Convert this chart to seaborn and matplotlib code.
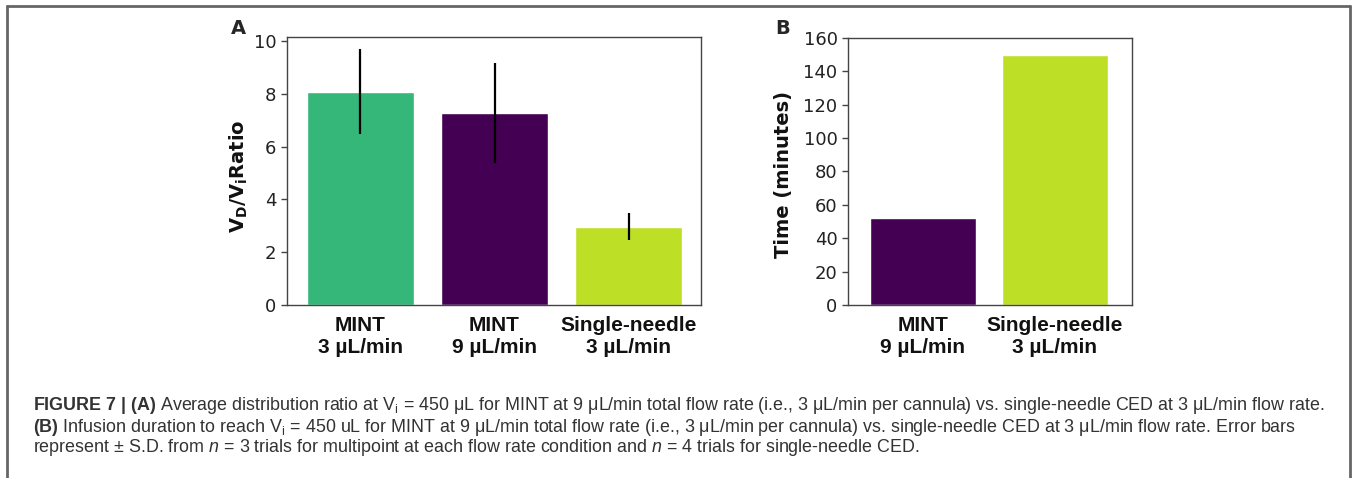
import matplotlib.pyplot as plt
import matplotlib.lines as mlines
import seaborn as sns

# panel A: distribution ratio
ratio_labels = ["MINT\n3 µL/min", "MINT\n9 µL/min", "Single-needle\n3 µL/min"]
ratio_mean = [8.08, 7.28, 2.97]
ratio_sd = [1.6, 1.9, 0.5]
ratio_colors = ["#35b779", "#440154", "#bddf26"]

# panel B: infusion time
time_labels = ["MINT\n9 µL/min", "Single-needle\n3 µL/min"]
time_minutes = [52.4, 150.0]
time_colors = ["#440154", "#bddf26"]

caption_lines = [
    r"$\mathbf{FIGURE\ 7\ |\ (A)}$ Average distribution ratio at V$_\mathrm{i}$ = 450 μL for MINT at 9 μL/min total flow rate (i.e., 3 μL/min per cannula) vs. single-needle CED at 3 μL/min flow rate.",
    r"$\mathbf{(B)}$ Infusion duration to reach V$_\mathrm{i}$ = 450 uL for MINT at 9 μL/min total flow rate (i.e., 3 μL/min per cannula) vs. single-needle CED at 3 μL/min flow rate. Error bars",
    r"represent ± S.D. from $n$ = 3 trials for multipoint at each flow rate condition and $n$ = 4 trials for single-needle CED.",
]

sns.set_style("ticks")
plt.rcParams["font.family"] = ["DejaVu Sans"]
plt.rcParams["mathtext.fontset"] = "custom"
plt.rcParams["mathtext.rm"] = "Liberation Sans"
plt.rcParams["mathtext.it"] = "Liberation Sans:italic"
plt.rcParams["mathtext.bf"] = "Liberation Sans:bold"

W, H = 1357, 478
fig = plt.figure(figsize=(W / 100, H / 100), dpi=100)


def px_axes(left, top, right, bottom):
    return fig.add_axes([left / W, 1 - bottom / H, (right - left) / W, (bottom - top) / H])


def style_axes(ax):
    for s in ax.spines.values():
        s.set_visible(True)
        s.set_color("#444444")
        s.set_linewidth(1.0)
    ax.tick_params(axis="y", labelsize=13, length=4, width=1, color="#444444", labelcolor="#222222")
    ax.tick_params(axis="x", length=0, pad=8)
    for t in ax.get_xticklabels():
        t.set_fontfamily("Liberation Sans")
        t.set_fontweight("bold")
        t.set_fontsize(15)
        t.set_color("#111111")
        t.set_linespacing(1.2)
    ax.set_xlabel("")


axA = px_axes(287, 37, 701, 305)
sns.barplot(x=ratio_labels, y=ratio_mean, hue=ratio_labels, palette=ratio_colors,
            legend=False, width=0.8, saturation=1, ax=axA)
axA.errorbar(range(len(ratio_mean)), ratio_mean, yerr=ratio_sd, fmt="none",
             ecolor="black", elinewidth=1.6, capsize=0)
axA.set_xlim(-0.548, 2.54)
axA.set_ylim(0, 10.15)
axA.set_yticks([0, 2, 4, 6, 8, 10])
style_axes(axA)
ylabA = axA.set_ylabel(r"$\mathbf{V_D/V_i}$Ratio", fontsize=14, fontweight="bold", color="#111111")
ylabA.set_math_fontfamily("dejavusans")
axA.yaxis.set_label_coords(-0.089, 0.48)

axB = px_axes(848, 38, 1132, 305)
sns.barplot(x=time_labels, y=time_minutes, hue=time_labels, palette=time_colors,
            legend=False, width=0.8, saturation=1, ax=axB)
axB.set_xlim(-0.566, 1.583)
axB.set_ylim(0, 160)
axB.set_yticks(range(0, 161, 20))
style_axes(axB)
axB.set_ylabel("Time (minutes)", fontsize=14, fontweight="bold", color="#111111")
axB.yaxis.set_label_coords(-0.194, 0.49)

fig.text(238 / W, 1 - 28 / H, "A", fontsize=14, fontweight="bold", ha="center", va="center")
fig.text(783 / W, 1 - 28 / H, "B", fontsize=14, fontweight="bold", ha="center", va="center")

for line, yc in zip(caption_lines, [405, 427, 448]):
    fig.text(33 / W, 1 - yc / H, line, fontsize=12.9, family="Liberation Sans",
             color="#333333", ha="left", va="center")

# frame around the figure + caption
frame = dict(color="#666666", linewidth=2, transform=fig.transFigure)
fig.add_artist(mlines.Line2D([7 / W, 1350 / W], [1 - 6 / H, 1 - 6 / H], **frame))
fig.add_artist(mlines.Line2D([7 / W, 7 / W], [1 - 6 / H, 0], **frame))
fig.add_artist(mlines.Line2D([1350 / W, 1350 / W], [1 - 6 / H, 0], **frame))

fig.savefig("out.png", dpi=100)
